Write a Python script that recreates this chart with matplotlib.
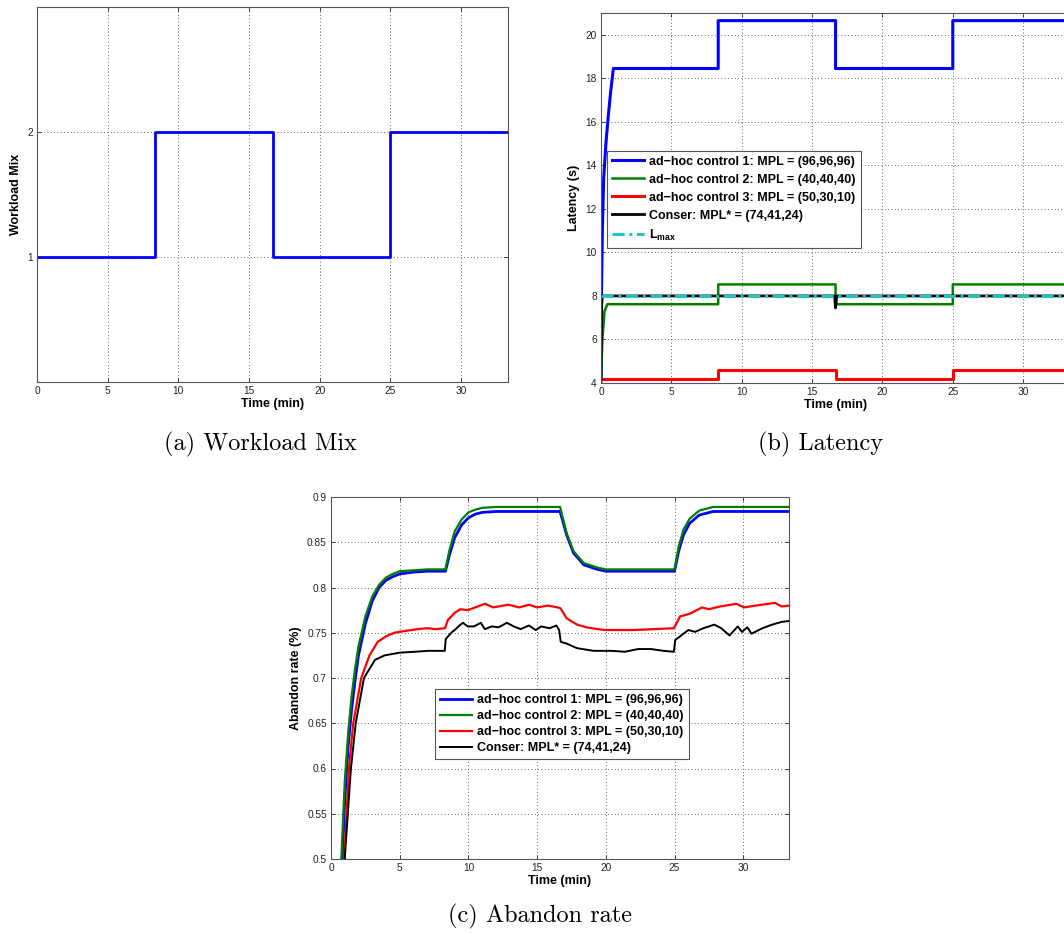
import numpy as np
import matplotlib.pyplot as plt

plt.rcParams['font.family'] = ['Liberation Sans', 'DejaVu Sans']
plt.rcParams['mathtext.fontset'] = 'custom'
plt.rcParams['mathtext.bf'] = 'Liberation Sans:bold'
plt.rcParams['mathtext.rm'] = 'Liberation Sans'

T_END = 33.33

# (a) Workload mix
mix_t = [0, 8.33, 8.33, 16.67, 16.67, 25, 25, 33.33]
mix_v = [1, 1, 2, 2, 1, 1, 2, 2]

# (b) Latency (s)
lat1_t = [0, 0.03, 0.1, 0.19, 0.35, 0.52, 0.69, 0.88, 8.33, 8.33, 16.67, 16.67, 25, 25, 33.33]
lat1_v = [4.2, 8.0, 11.1, 13.4, 15.0, 16.3, 17.4, 18.45, 18.45, 20.65, 20.65, 18.45, 18.45,
          20.65, 20.65]
lat2_t = [0, 0.1, 0.25, 0.45, 8.33, 8.33, 16.67, 16.67, 25, 25, 33.33]
lat2_v = [4.2, 6.0, 7.3, 7.62, 7.62, 8.53, 8.53, 7.62, 7.62, 8.53, 8.53]
lat3_t = [0, 8.33, 8.33, 16.67, 16.67, 25, 25, 33.33]
lat3_v = [4.2, 4.2, 4.58, 4.58, 4.2, 4.2, 4.58, 4.58]
latc_t = [0, 0.05, 0.1, 16.6, 16.67, 16.75, 33.33]
latc_v = [4.0, 7.6, 8.0, 8.0, 7.45, 8.0, 8.0]
lmax_t = [0, 33.33]
lmax_v = [8, 8]

# (c) Abandon rate
ab1_t = [0.82, 1.0, 1.25, 1.5, 1.75, 2.0, 2.5, 3.0, 3.5, 4.0, 4.5, 5.0, 6.0, 7.0, 8.33,
         8.6, 9.0, 9.5, 10.0, 10.5, 11.0, 12.0, 16.67, 17.15, 17.65, 18.4, 19.4, 20.0,
         25.0, 25.3, 25.65, 26.1, 26.8, 27.8, 33.33]
ab1_v = [0.5, 0.565, 0.625, 0.665, 0.697, 0.725, 0.760, 0.785, 0.800, 0.808, 0.812, 0.815,
         0.817, 0.818, 0.818, 0.835, 0.855, 0.869, 0.877, 0.881, 0.883, 0.884, 0.884,
         0.858, 0.838, 0.825, 0.820, 0.818, 0.818, 0.840, 0.858, 0.871, 0.880, 0.884, 0.884]
ab2_t = [0.75, 1.0, 1.25, 1.5, 1.75, 2.0, 2.5, 3.0, 3.5, 4.0, 4.5, 5.0, 6.0, 7.0, 8.33,
         8.6, 9.0, 9.5, 10.0, 10.5, 11.0, 12.0, 16.67, 17.15, 17.65, 18.4, 19.4, 20.0,
         25.0, 25.3, 25.65, 26.1, 26.8, 27.8, 33.33]
ab2_v = [0.5, 0.585, 0.64, 0.68, 0.71, 0.735, 0.768, 0.79, 0.803, 0.811, 0.815, 0.818,
         0.819, 0.820, 0.820, 0.840, 0.862, 0.875, 0.883, 0.886, 0.888, 0.889, 0.889,
         0.860, 0.840, 0.827, 0.822, 0.820, 0.820, 0.845, 0.864, 0.876, 0.885, 0.889, 0.889]
ab3_t = [0.97, 1.3, 1.62, 2.2, 2.8, 3.4, 4.0, 4.6, 5.4, 6.3, 7.0, 7.6, 8.3, 8.5, 9.0, 9.4,
         9.95, 10.5, 11.2, 11.8, 12.9, 13.7, 14.4, 15.0, 15.8, 16.5, 16.7, 17.15, 17.9,
         18.6, 19.4, 20.0, 22.0, 24.95, 25.2, 25.4, 26.1, 27.0, 27.5, 28.3, 29.5, 30.05,
         30.9, 32.3, 32.8, 33.33]
ab3_v = [0.5, 0.6, 0.65, 0.70, 0.725, 0.74, 0.746, 0.750, 0.752, 0.754, 0.755, 0.754,
         0.755, 0.764, 0.772, 0.776, 0.775, 0.778, 0.782, 0.778, 0.781, 0.778, 0.781,
         0.778, 0.780, 0.778, 0.777, 0.766, 0.759, 0.756, 0.754, 0.753, 0.753, 0.755,
         0.762, 0.768, 0.771, 0.778, 0.776, 0.779, 0.782, 0.778, 0.780, 0.783, 0.779, 0.780]
abc_t = [1.0, 1.45, 1.8, 2.4, 3.2, 3.9, 5.0, 6.1, 7.05, 8.28, 8.35, 8.75, 9.0, 9.35, 9.6,
         9.95, 10.4, 10.9, 11.2, 11.7, 12.2, 12.8, 13.3, 13.8, 14.4, 14.9, 15.3, 15.9,
         16.4, 16.6, 16.72, 17.15, 17.9, 19.1, 20.4, 21.4, 22.35, 23.3, 24.2, 24.95, 25.05,
         25.4, 25.65, 26.0, 26.5, 27.1, 27.9, 28.4, 29.0, 29.6, 29.9, 30.3, 30.6, 31.4,
         32.1, 32.8, 33.33]
abc_v = [0.5, 0.6, 0.65, 0.70, 0.72, 0.725, 0.728, 0.729, 0.730, 0.730, 0.743, 0.750,
         0.753, 0.758, 0.761, 0.757, 0.757, 0.761, 0.754, 0.757, 0.756, 0.761, 0.757,
         0.754, 0.758, 0.753, 0.757, 0.755, 0.758, 0.753, 0.740, 0.738, 0.733, 0.730,
         0.730, 0.729, 0.732, 0.732, 0.730, 0.729, 0.742, 0.746, 0.749, 0.753, 0.751,
         0.755, 0.759, 0.755, 0.747, 0.757, 0.751, 0.756, 0.749, 0.755, 0.759, 0.762, 0.763]

labels = ['ad\u2212hoc control 1: MPL = (96,96,96)',
          'ad\u2212hoc control 2: MPL = (40,40,40)',
          'ad\u2212hoc control 3: MPL = (50,30,10)',
          'Conser: MPL* = (74,41,24)']

BLUE = '#0000ff'
GREEN = '#008000'
RED = '#ff0000'
CYAN = '#1fc4c4'

W, H = 1064, 933


def make_axes(fig, left, right, top, bottom):
    return fig.add_axes([left / W, 1 - bottom / H, (right - left) / W, (bottom - top) / H])


def style_axes(ax, xlabel, ylabel):
    ax.set_xlim(0, T_END)
    ax.set_xticks([0, 5, 10, 15, 20, 25, 30])
    ax.grid(True, color='#333333', linestyle=(0, (1, 3)), linewidth=0.6)
    ax.tick_params(direction='in', length=3, width=0.6, labelsize=7.3,
                   top=True, right=True, pad=3, colors='#222222')
    for sp in ax.spines.values():
        sp.set_color('#555555')
        sp.set_linewidth(0.8)
    ax.set_xlabel(xlabel, fontsize=9, fontweight='bold', labelpad=1)
    ax.set_ylabel(ylabel, fontsize=9, fontweight='bold', labelpad=4)


fig = plt.figure(figsize=(W / 100, H / 100), dpi=100)

# (a)
ax1 = make_axes(fig, 37, 508, 7, 382)
ax1.plot(mix_t, mix_v, color=BLUE, lw=2)
ax1.set_ylim(0, 3)
ax1.set_yticks([1, 2])
style_axes(ax1, 'Time (min)', 'Workload Mix')

# (b)
ax2 = make_axes(fig, 601, 1070, 13, 383)
ax2.plot(lat1_t, lat1_v, color=BLUE, lw=2.2, label=labels[0])
ax2.plot(lat2_t, lat2_v, color=GREEN, lw=1.8, label=labels[1])
ax2.plot(lat3_t, lat3_v, color=RED, lw=2.2, label=labels[2])
ax2.plot(latc_t, latc_v, color='black', lw=2.0, label=labels[3])
ax2.plot(lmax_t, lmax_v, color=CYAN, lw=2.2, linestyle=(0, (4, 1.5, 1, 1.5)),
         label=r'L$_{\mathbf{max}}$')
ax2.set_ylim(4, 21)
ax2.set_yticks([4, 6, 8, 10, 12, 14, 16, 18, 20])
style_axes(ax2, 'Time (min)', 'Latency (s)')
leg2 = ax2.legend(loc='lower left', bbox_to_anchor=(0.012, 0.365), borderaxespad=0,
                  prop={'weight': 'bold', 'size': 9}, handlelength=2.6, handletextpad=0.4,
                  labelspacing=0.48, fancybox=False, framealpha=1, borderpad=0.4)
leg2.get_frame().set_edgecolor('#555555')
leg2.get_frame().set_linewidth(0.8)

# (c)
ax3 = make_axes(fig, 331, 789, 497, 859)
ax3.plot(ab1_t, ab1_v, color=BLUE, lw=2.0, label=labels[0])
ax3.plot(ab2_t, ab2_v, color=GREEN, lw=1.6, label=labels[1])
ax3.plot(ab3_t, ab3_v, color=RED, lw=1.6, label=labels[2])
ax3.plot(abc_t, abc_v, color='black', lw=1.4, label=labels[3])
ax3.set_ylim(0.5, 0.9)
ax3.set_yticks([0.5, 0.55, 0.6, 0.65, 0.7, 0.75, 0.8, 0.85, 0.9])
ax3.set_yticklabels(['0.5', '0.55', '0.6', '0.65', '0.7', '0.75', '0.8', '0.85', '0.9'])
style_axes(ax3, 'Time (min)', 'Abandon rate (%)')
leg3 = ax3.legend(loc='lower left', bbox_to_anchor=(0.226, 0.275), borderaxespad=0,
                  prop={'weight': 'bold', 'size': 9}, handlelength=2.6, handletextpad=0.4,
                  labelspacing=0.32, fancybox=False, framealpha=1, borderpad=0.4)
leg3.get_frame().set_edgecolor('#555555')
leg3.get_frame().set_linewidth(0.8)

# captions
fig.text(260 / W, 1 - 444 / H, '(a) Workload Mix', family='cmr10', fontsize=17.5,
         ha='center', va='center')
fig.text(821 / W, 1 - 444 / H, '(b) Latency', family='cmr10', fontsize=17.5,
         ha='center', va='center')
fig.text(540 / W, 1 - 916 / H, '(c) Abandon rate', family='cmr10', fontsize=17.5,
         ha='center', va='center')

fig.savefig('out.png', dpi=100)
